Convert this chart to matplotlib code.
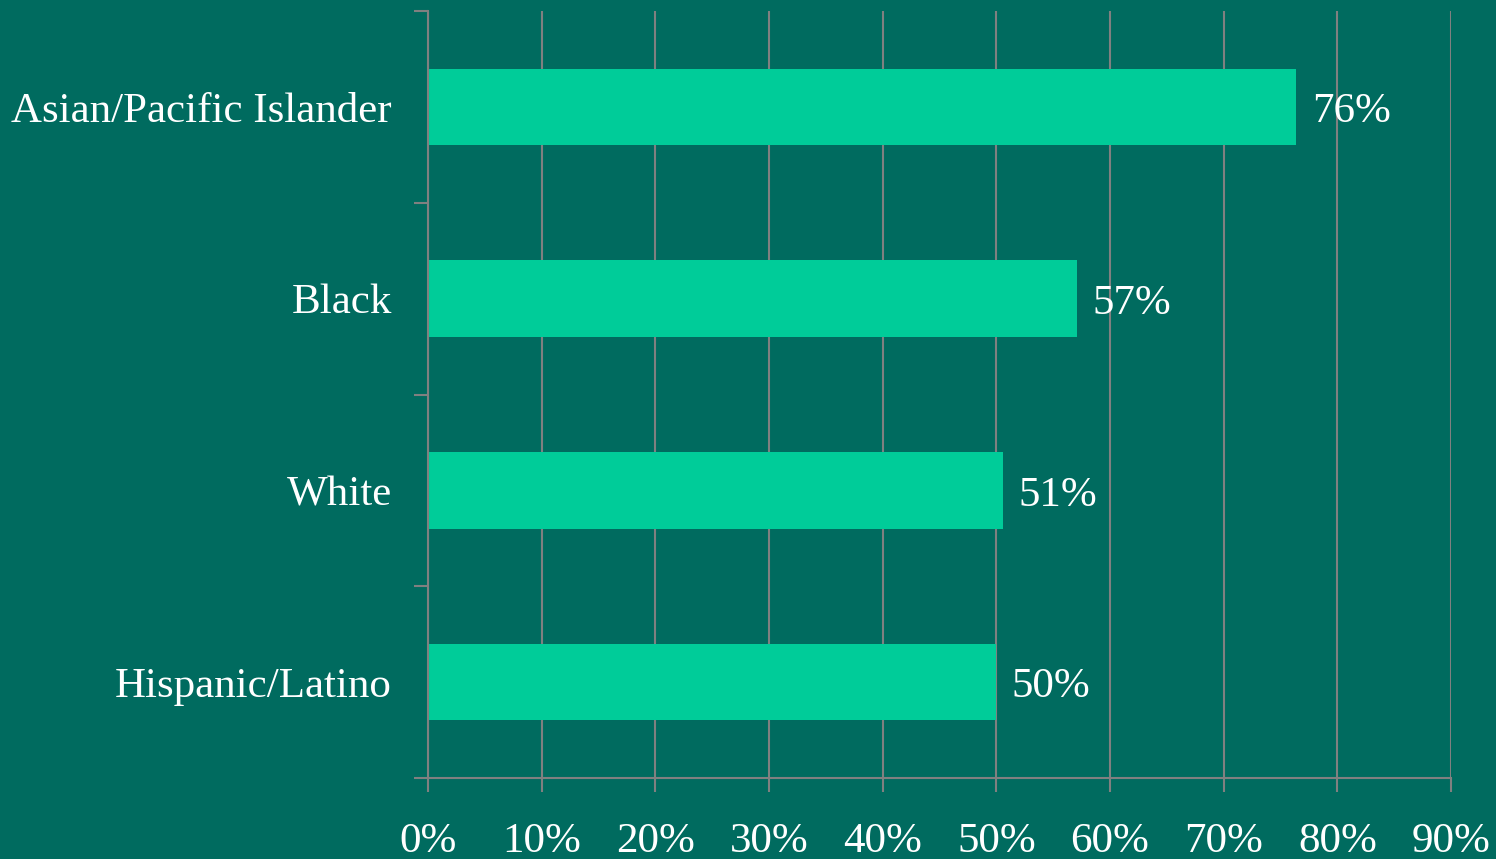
import numpy as np
import matplotlib
matplotlib.use('Agg')
import matplotlib.pyplot as plt

grupos = ["Asian/Pacific Islander", "Black", "White", "Hispanic/Latino"]
valores = [76.4, 57.1, 50.6, 50.0]
etiquetas = ["76%", "57%", "51%", "50%"]
ticks_x = [0, 10, 20, 30, 40, 50, 60, 70, 80, 90]

fondo = "#006B5F"
barra = "#00CC99"
gris = "#808080"

plt.rcParams['font.family'] = ['Liberation Serif', 'DejaVu Serif']

fig = plt.figure(figsize=(14.96, 8.59), dpi=100, facecolor=fondo)
ax = fig.add_axes([428/1496, 1 - 778/859, (1451 - 428)/1496, (778 - 11)/859])
ax.set_facecolor(fondo)

y = np.arange(len(grupos))
ax.barh(y, valores, height=0.4, color=barra, zorder=3)

for i in range(len(grupos)):
    ax.annotate(etiquetas[i], (valores[i], y[i]), xytext=(11, -11), textcoords="offset points",
                va="baseline", ha="left", color="white", fontsize=31, zorder=4)

ax.set_xlim(0, 90)
ax.set_ylim(len(grupos) - 0.5, -0.5)
ax.set_xticks(ticks_x)
ax.set_xticklabels([f"{t}%" for t in ticks_x], color="white", fontsize=31)
ax.tick_params(axis="x", length=10, width=1.5, color=gris, direction="out", pad=22)

# ticks del eje y en los bordes de cada categoria, etiquetas al centro
ax.set_yticks(np.arange(-0.5, len(grupos), 1.0))
ax.set_yticklabels([])
ax.tick_params(axis="y", which="major", length=10, width=1.5, color=gris, direction="out")
ax.set_yticks(y, minor=True)
ax.set_yticklabels(grupos, minor=True, color="white", fontsize=31)
ax.tick_params(axis="y", which="minor", length=0, pad=26)

ax.grid(True, axis="x", color=gris, linewidth=1.5, zorder=1)
for lado in ["top", "right"]:
    ax.spines[lado].set_visible(False)
for lado in ["left", "bottom"]:
    ax.spines[lado].set_color(gris)
    ax.spines[lado].set_linewidth(1.5)
    ax.spines[lado].set_zorder(5)

fig.savefig("out.png", dpi=100, facecolor=fondo)
